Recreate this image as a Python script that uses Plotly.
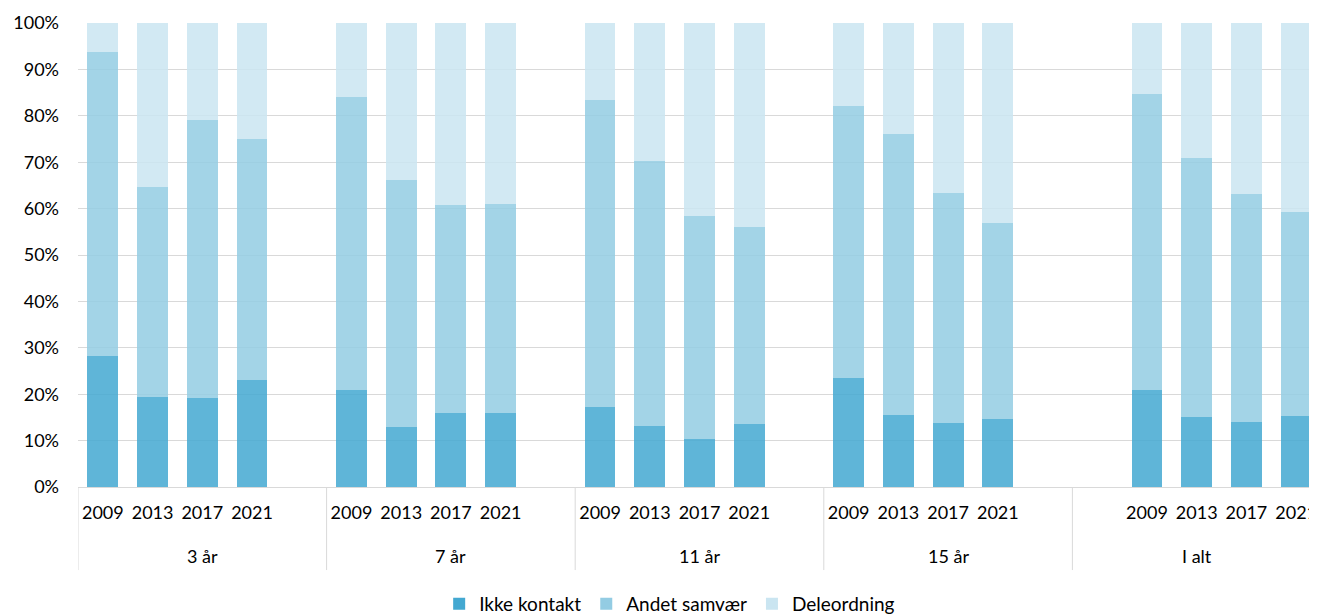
import plotly.graph_objects as go

# DATA
groups = ["3 år", "7 år", "11 år", "15 år", "I alt"]
years = ["2009", "2013", "2017", "2021"]

# percent per group, years 2009/2013/2017/2021
ikke_kontakt = [
    [28.2, 19.3, 19.2, 23.1],
    [20.9, 12.9, 16.0, 16.0],
    [17.2, 13.1, 10.4, 13.5],
    [23.4, 15.6, 13.7, 14.6],
    [21.0, 15.0, 14.0, 15.4],
]
andet_samvaer = [
    [65.6, 45.4, 60.0, 51.9],
    [63.2, 53.3, 44.8, 44.9],
    [66.2, 57.2, 48.0, 42.6],
    [58.7, 60.4, 49.7, 42.3],
    [63.6, 55.9, 49.1, 43.9],
]
deleordning = [
    [6.2, 35.3, 20.8, 25.0],
    [15.9, 33.8, 39.2, 39.1],
    [16.6, 29.7, 41.6, 43.9],
    [17.9, 24.0, 36.6, 43.1],
    [15.4, 29.1, 36.9, 40.7],
]
y_ticks = [0, 10, 20, 30, 40, 50, 60, 70, 80, 90, 100]

# x slots: 5 per group, blank slot at end (first 4 groups) or start (I alt)
xpos = []
xlab = []
for g, name in enumerate(groups):
    offset = 1 if name == "I alt" else 0
    for i, yr in enumerate(years):
        xpos.append(g * 5 + offset + i)
        xlab.append(yr)

def flat(rows):
    return [v for r in rows for v in r]

colors = ["#43a8d1", "#93cce3", "#cae5f1"]
names = ["Ikke kontakt", "Andet samvær", "Deleordning"]
series = [ikke_kontakt, andet_samvaer, deleordning]

fig = go.Figure()
for nm, col, s in zip(names, colors, series):
    fig.add_trace(go.Bar(
        x=xpos, y=flat(s), name=nm, width=0.62,
        marker=dict(color=col, opacity=0.85, line=dict(width=0)),
        hoverinfo="y+name",
    ))

# group labels and dividers
for g, name in enumerate(groups):
    fig.add_annotation(x=g * 5 + 2, y=-0.149, xref="x", yref="paper",
                       text=name, showarrow=False, yanchor="middle",
                       font=dict(size=18, color="#000000"))
for g in range(len(groups)):
    fig.add_shape(type="line", xref="x", yref="paper",
                  x0=g * 5 - 0.5, x1=g * 5 - 0.5, y0=0, y1=-0.179,
                  line=dict(color="#d9d9d9", width=1))

# page body has an 8px margin, so margins are reduced to compensate
fig.update_layout(
    width=1317, height=625,
    barmode="stack",
    bargap=0.3,
    plot_bgcolor="white", paper_bgcolor="white",
    font=dict(family="Lato, Open Sans, sans-serif", size=18, color="#000000"),
    margin=dict(l=70, r=4, t=15, b=146),
    showlegend=True,
    legend=dict(orientation="h", x=0.476, xanchor="center", y=-0.252,
                yanchor="middle", font=dict(size=19), traceorder="normal"),
)
fig.update_xaxes(
    range=[-0.5, 24.5], automargin=False,
    tickmode="array", tickvals=xpos, ticktext=xlab,
    showgrid=False, zeroline=False,
    showline=True, linecolor="#d9d9d9", linewidth=1,
    ticks="", ticklabelstandoff=9,
    tickfont=dict(size=18),
)
fig.update_yaxes(
    range=[0, 100], automargin=False,
    tickmode="array", tickvals=y_ticks,
    ticktext=[f"{v}%" for v in y_ticks],
    showgrid=True, gridcolor="#d9d9d9", gridwidth=1,
    zeroline=False, showline=False, ticks="",
    ticklabelstandoff=18,
    tickfont=dict(size=18),
)

fig.write_html("out.html")
